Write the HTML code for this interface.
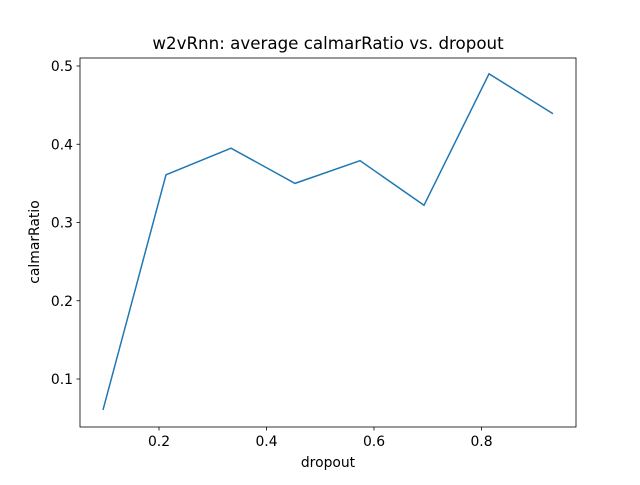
<!DOCTYPE html>
<html><head><meta charset="utf-8"><style>
body{margin:0;background:#fff}
svg text{font-family:"DejaVu Sans","Liberation Sans",sans-serif;fill:#000}
</style></head><body>
<svg id="chart" width="640" height="480" xmlns="http://www.w3.org/2000/svg">
<rect width="640" height="480" fill="#fff"/>
<text x="328" y="49" font-size="16.7" text-anchor="middle">w2vRnn: average calmarRatio vs. dropout</text>
<g id="plot"></g>
<text x="328" y="467" font-size="13.9" text-anchor="middle">dropout</text>
<text x="39" y="242" font-size="13.9" text-anchor="middle" transform="rotate(-90 39 242)">calmarRatio</text>
</svg>
<script>
const dropout=[0.0958,0.213,0.334,0.453,0.574,0.693,0.814,0.933];
const calmarRatio=[0.0604,0.361,0.395,0.350,0.379,0.322,0.490,0.439];
const xTicks=[0.2,0.4,0.6,0.8];
const yTicks=[0.1,0.2,0.3,0.4,0.5];
const L=80,R=576,T=58,B=427;
const xs=v=>51.5+v*537.5;
const ys=v=>379-(v-0.1)*782.5;
const g=document.getElementById('plot');
const NS='http://www.w3.org/2000/svg';
function mk(t,a){const e=document.createElementNS(NS,t);for(const k in a)e.setAttribute(k,a[k]);g.appendChild(e);return e;}
xTicks.forEach(v=>{
 const l=mk('line',{x1:xs(v),x2:xs(v),y1:B,y2:B+3.5,stroke:'#000','stroke-width':0.8});
 
 
 const t=mk('text',{x:xs(v),y:B+19,'font-size':13.9,'text-anchor':'middle'});t.textContent=v.toFixed(1);
 
 
});
yTicks.forEach(v=>{
 const l=mk('line',{x1:L-3.5,x2:L,y1:ys(v),y2:ys(v),stroke:'#000','stroke-width':0.8});
 
 
 const t=mk('text',{x:L-7,y:ys(v)+5,'font-size':13.9,'text-anchor':'end'});t.textContent=v.toFixed(1);
 
 
});
const p=mk('polyline',{points:dropout.map((d,i)=>xs(d)+','+ys(calmarRatio[i])).join(' '),fill:'none',stroke:'#1f77b4','stroke-width':1.5});


const f=mk('rect',{x:L,y:T,width:R-L,height:B-T,fill:'none',stroke:'#000','stroke-width':0.8});


</script>
</body></html>
